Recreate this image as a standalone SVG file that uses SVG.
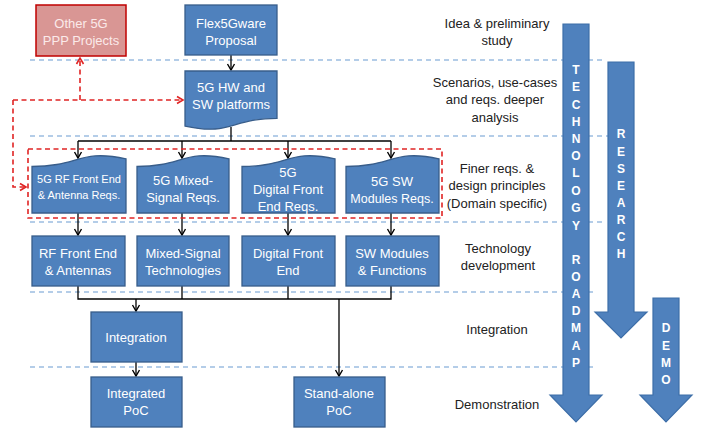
<svg xmlns="http://www.w3.org/2000/svg" width="705" height="428" viewBox="0 0 705 428">
<defs>
<style>
.box{fill:#4f81bd;stroke:#385d8a;stroke-width:1.3}
.pink{fill:#d99694;stroke:#c00000;stroke-width:1.5}
.bt{font-family:"Liberation Sans",Arial,sans-serif;font-size:13px;fill:#fff;text-anchor:middle}
.pt{font-family:"Liberation Sans",Arial,sans-serif;font-size:13px;fill:#fbeaea;text-anchor:middle}
.lt{font-family:"Liberation Sans",Arial,sans-serif;font-size:13px;fill:#222;text-anchor:middle}
.at{font-family:"Liberation Sans",Arial,sans-serif;font-size:12px;font-weight:bold;fill:#fff;text-anchor:middle}
.sep{stroke:#6b9bd2;stroke-width:1.2;stroke-dasharray:5,4;fill:none}
.bigarrow{fill:#4f81bd;stroke:#3d6ea8;stroke-width:1.2}
.con{stroke:#000;stroke-width:1.3;fill:none}
.rcon{stroke:#e02424;stroke-width:1.6;stroke-dasharray:5,3.5;fill:none}
</style>
<marker id="ah" markerWidth="10" markerHeight="10" refX="8" refY="5" orient="auto" markerUnits="userSpaceOnUse">
<path d="M2,1.5 L8,5 L2,8.5" fill="none" stroke="#000" stroke-width="1.4"/>
</marker>
<marker id="rah" markerWidth="10" markerHeight="10" refX="8" refY="5" orient="auto" markerUnits="userSpaceOnUse">
<path d="M2,1.5 L8,5 L2,8.5" fill="none" stroke="#e02424" stroke-width="1.6"/>
</marker>
</defs>
<rect width="705" height="428" fill="#fff"/>

<g id="separators">
<line class="sep" x1="30" y1="60" x2="605" y2="60"/>
<line class="sep" x1="30" y1="136" x2="608" y2="136"/>
<line class="sep" x1="30" y1="222" x2="605" y2="222"/>
<line class="sep" x1="30" y1="292" x2="597" y2="292"/>
<line class="sep" x1="30" y1="367" x2="597" y2="367"/>
</g>

<g id="phase-labels">
<text class="lt" x="497" y="28">Idea &amp; preliminary</text>
<text class="lt" x="497" y="45">study</text>
<text class="lt" x="495" y="87">Scenarios, use-cases</text>
<text class="lt" x="495" y="104">and reqs. deeper</text>
<text class="lt" x="495" y="122">analysis</text>
<text class="lt" x="497" y="173">Finer reqs. &amp;</text>
<text class="lt" x="497" y="190">design principles</text>
<text class="lt" x="497" y="208">(Domain specific)</text>
<text class="lt" x="498" y="253">Technology</text>
<text class="lt" x="498" y="270">development</text>
<text class="lt" x="497" y="334">Integration</text>
<text class="lt" x="497" y="409">Demonstration</text>
</g>

<g id="technology-roadmap">
<path class="bigarrow" d="M563,24 L589,24 L589,395 L602,395 L576,422 L550,395 L563,395 Z"/>
<text class="at" x="576" y="74">T</text>
<text class="at" x="576" y="91">E</text>
<text class="at" x="576" y="109">C</text>
<text class="at" x="576" y="126">H</text>
<text class="at" x="576" y="143">N</text>
<text class="at" x="576" y="160">O</text>
<text class="at" x="576" y="177">L</text>
<text class="at" x="576" y="195">O</text>
<text class="at" x="576" y="212">G</text>
<text class="at" x="576" y="230">Y</text>
<text class="at" x="576" y="264">R</text>
<text class="at" x="576" y="281">O</text>
<text class="at" x="576" y="298">A</text>
<text class="at" x="576" y="315">D</text>
<text class="at" x="576" y="332">M</text>
<text class="at" x="576" y="350">A</text>
<text class="at" x="576" y="367">P</text>
</g>

<g id="research">
<path class="bigarrow" d="M608,62 L634,62 L634,312 L647,312 L621,338 L595,312 L608,312 Z"/>
<text class="at" x="621" y="138">R</text>
<text class="at" x="621" y="156">E</text>
<text class="at" x="621" y="173">S</text>
<text class="at" x="621" y="190">E</text>
<text class="at" x="621" y="207">A</text>
<text class="at" x="621" y="224">R</text>
<text class="at" x="621" y="241">C</text>
<text class="at" x="621" y="258">H</text>
</g>

<g id="demo">
<path class="bigarrow" d="M653,298 L679,298 L679,395 L692,395 L666,422 L640,395 L653,395 Z"/>
<text class="at" x="666" y="332">D</text>
<text class="at" x="666" y="350">E</text>
<text class="at" x="666" y="367">M</text>
<text class="at" x="666" y="384">O</text>
</g>

<g id="connectors">
<line class="con" x1="231" y1="55" x2="231" y2="70" marker-end="url(#ah)"/>
<polyline class="con" points="231,127 231,141"/>
<polyline class="con" points="78,141 391,141"/>
<line class="con" x1="78" y1="141" x2="78" y2="158" marker-end="url(#ah)"/>
<line class="con" x1="182" y1="141" x2="182" y2="158" marker-end="url(#ah)"/>
<line class="con" x1="288" y1="141" x2="288" y2="158" marker-end="url(#ah)"/>
<line class="con" x1="391" y1="141" x2="391" y2="158" marker-end="url(#ah)"/>
<line class="con" x1="78" y1="213" x2="78" y2="235" marker-end="url(#ah)"/>
<line class="con" x1="182" y1="213" x2="182" y2="235" marker-end="url(#ah)"/>
<line class="con" x1="288" y1="213" x2="288" y2="235" marker-end="url(#ah)"/>
<line class="con" x1="391" y1="213" x2="391" y2="235" marker-end="url(#ah)"/>
<polyline class="con" points="78,286 78,299 391,299 391,286"/>
<line class="con" x1="182" y1="286" x2="182" y2="299"/>
<line class="con" x1="288" y1="286" x2="288" y2="299"/>
<line class="con" x1="136" y1="299" x2="136" y2="311" marker-end="url(#ah)"/>
<line class="con" x1="339" y1="299" x2="339" y2="376" marker-end="url(#ah)"/>
<line class="con" x1="136" y1="362" x2="136" y2="376" marker-end="url(#ah)"/>
<line class="rcon" x1="13" y1="100" x2="183" y2="100" marker-end="url(#rah)"/>
<polyline class="rcon" points="13,100 13,187 26,187" marker-end="url(#rah)"/>
<line class="rcon" x1="80" y1="100" x2="80" y2="58" marker-end="url(#rah)"/>
<rect class="rcon" x="28" y="149" width="414" height="69"/>
</g>

<g id="other-5g-ppp">
<rect class="pink" x="36" y="5" width="90" height="51"/>
<text class="pt" x="81" y="28">Other 5G</text>
<text class="pt" x="81" y="45">PPP Projects</text>
</g>

<g id="flex5gware-proposal">
<rect class="box" x="185" y="5" width="92" height="50"/>
<text class="bt" x="231" y="28">Flex5Gware</text>
<text class="bt" x="231" y="45">Proposal</text>
</g>

<g id="hw-sw-platforms">
<path class="box" d="M185,71 L277,71 L277,118.3 C231,118.3 231,136.3 185,126.1 Z"/>
<text class="bt" x="231" y="92">5G HW and</text>
<text class="bt" x="231" y="109">SW platforms</text>
</g>

<g id="rf-reqs">
<path class="box" d="M32,213 L32,166.5 C79,166.5 79,148.8 126,158.8 L126,213 Z"/>
<text class="bt" x="79" y="183" style="font-size:11px">5G RF Front End</text>
<text class="bt" x="79" y="199" style="font-size:11px">&amp; Antenna Reqs.</text>
</g>

<g id="ms-reqs">
<path class="box" d="M137,213 L137,166.5 C183,166.5 183,148.8 229,158.8 L229,213 Z"/>
<text class="bt" x="183" y="185">5G Mixed-</text>
<text class="bt" x="183" y="202">Signal Reqs.</text>
</g>

<g id="dfe-reqs">
<path class="box" d="M242,213 L242,166.5 C288.5,166.5 288.5,148.8 335,158.8 L335,213 Z"/>
<text class="bt" x="288" y="177">5G</text>
<text class="bt" x="288" y="194">Digital Front</text>
<text class="bt" x="288" y="211">End Reqs.</text>
</g>

<g id="sw-reqs">
<path class="box" d="M346,213 L346,166.5 C392.5,166.5 392.5,148.8 439,158.8 L439,213 Z"/>
<text class="bt" x="392" y="186">5G SW</text>
<text class="bt" x="392" y="203" style="font-size:12.5px">Modules Reqs.</text>
</g>

<g id="rf-tech">
<rect class="box" x="32" y="236" width="93" height="50"/>
<text class="bt" x="78" y="258">RF Front End</text>
<text class="bt" x="78" y="275">&amp; Antennas</text>
</g>

<g id="ms-tech">
<rect class="box" x="137" y="236" width="92" height="50"/>
<text class="bt" x="183" y="258">Mixed-Signal</text>
<text class="bt" x="183" y="275">Technologies</text>
</g>

<g id="dfe-tech">
<rect class="box" x="242" y="236" width="93" height="50"/>
<text class="bt" x="288" y="258">Digital Front</text>
<text class="bt" x="288" y="275">End</text>
</g>

<g id="sw-tech">
<rect class="box" x="346" y="236" width="93" height="50"/>
<text class="bt" x="392" y="258">SW Modules</text>
<text class="bt" x="392" y="275">&amp; Functions</text>
</g>

<g id="integration">
<rect class="box" x="91" y="312" width="91" height="50"/>
<text class="bt" x="136" y="342">Integration</text>
</g>

<g id="integrated-poc">
<rect class="box" x="91" y="377" width="91" height="50"/>
<text class="bt" x="136" y="398">Integrated</text>
<text class="bt" x="136" y="415">PoC</text>
</g>

<g id="standalone-poc">
<rect class="box" x="294" y="377" width="91" height="50"/>
<text class="bt" x="339" y="398">Stand-alone</text>
<text class="bt" x="339" y="415">PoC</text>
</g>
</svg>
